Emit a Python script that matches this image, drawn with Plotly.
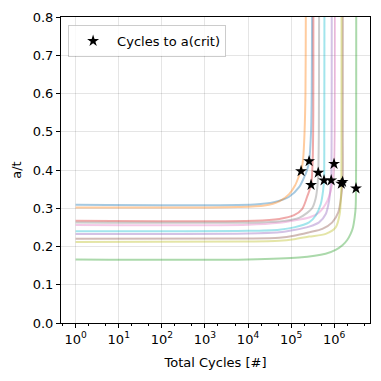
import plotly.graph_objects as go

# ---- data ----
blue_N = [1, 1.4e4, 4.0e4, 9.0e4, 1.53e5, 1.99e5, 2.35e5, 2.61e5, 2.9e5, 3.0e5, 3.06e5, 3.07e5]
blue_a = [0.309, 0.310, 0.316, 0.330, 0.355, 0.380, 0.400, 0.423, 0.50, 0.60, 0.80, 0.90]

orange_N = [1, 6.0e3, 2.4e4, 5.3e4, 9.0e4, 1.24e5, 1.53e5, 1.70e5, 1.90e5, 2.05e5, 2.15e5, 2.19e5, 2.20e5]
orange_a = [0.302, 0.303, 0.307, 0.318, 0.337, 0.360, 0.385, 0.397, 0.43, 0.50, 0.60, 0.80, 0.90]

green_N = [1, 1.0e4, 1.53e5, 6.3e5, 1.08e6, 1.55e6, 2.0e6, 2.4e6, 2.72e6, 2.98e6, 3.14e6, 3.2e6, 3.23e6, 3.24e6, 3.25e6]
green_a = [0.166, 0.166, 0.171, 0.181, 0.191, 0.203, 0.217, 0.233, 0.250, 0.276, 0.302, 0.352, 0.50, 0.80, 0.90]

red_N = [1, 1.4e4, 5.3e4, 1.17e5, 1.8e5, 2.35e5, 2.9e5, 3.15e5, 3.27e5, 3.28e5, 3.29e5]
red_a = [0.267, 0.267, 0.272, 0.282, 0.298, 0.330, 0.361, 0.42, 0.55, 0.80, 0.90]

purple_N = [1, 1.0e4, 5.3e4, 1.17e5, 2.61e5, 4.45e5, 6.36e5, 7.58e5, 8.2e5, 8.5e5, 8.7e5, 8.75e5, 8.77e5]
purple_a = [0.233, 0.234, 0.237, 0.243, 0.252, 0.263, 0.285, 0.319, 0.354, 0.373, 0.50, 0.80, 0.90]

brown_N = [1, 1.0e4, 5.3e4, 1.17e5, 2.61e5, 5.3e5, 9.0e5, 1.24e6, 1.44e6, 1.565e6, 1.575e6, 1.58e6, 1.585e6]
brown_a = [0.220, 0.221, 0.223, 0.228, 0.237, 0.246, 0.263, 0.289, 0.328, 0.369, 0.50, 0.80, 0.90]

pink_N = [1, 1.0e4, 5.3e4, 1.17e5, 2.61e5, 4.45e5, 6.9e5, 8.3e5, 9.4e5, 9.9e5, 1.03e6, 1.04e6, 1.045e6]
pink_a = [0.256, 0.257, 0.262, 0.268, 0.276, 0.289, 0.319, 0.345, 0.380, 0.416, 0.50, 0.80, 0.90]

gray_N = [1, 1.8e4, 6.9e4, 1.53e5, 2.35e5, 3.06e5, 3.69e5, 4.1e5, 4.25e5, 4.4e5, 4.45e5, 4.47e5]
gray_a = [0.263, 0.263, 0.267, 0.275, 0.288, 0.300, 0.325, 0.360, 0.393, 0.50, 0.80, 0.90]

olive_N = [1, 1.0e4, 5.3e4, 1.17e5, 2.61e5, 6.36e5, 1.08e6, 1.34e6, 1.44e6, 1.46e6, 1.47e6, 1.475e6, 1.48e6]
olive_a = [0.212, 0.213, 0.215, 0.219, 0.226, 0.233, 0.250, 0.285, 0.337, 0.364, 0.50, 0.80, 0.90]

cyan_N = [1, 1.0e4, 5.3e4, 1.17e5, 2.61e5, 3.73e5, 4.87e5, 5.5e5, 5.8e5, 5.88e5, 5.92e5, 5.93e5]
cyan_a = [0.240, 0.241, 0.244, 0.250, 0.263, 0.281, 0.311, 0.345, 0.373, 0.50, 0.80, 0.90]

crit_N = [2.61e5, 1.70e5, 3.2e6, 2.9e5, 8.5e5, 1.565e6, 9.9e5, 4.25e5, 1.46e6, 5.8e5]
crit_a = [0.423, 0.397, 0.352, 0.361, 0.373, 0.369, 0.416, 0.393, 0.364, 0.373]

x_tickvals = [1, 10, 100, 1e3, 1e4, 1e5, 1e6]
x_ticktext = ["10<sup>0</sup>", "10<sup>1</sup>", "10<sup>2</sup>", "10<sup>3</sup>",
              "10<sup>4</sup>", "10<sup>5</sup>", "10<sup>6</sup>"]

curves = [
    (blue_N, blue_a, "31,119,180"),
    (orange_N, orange_a, "255,127,14"),
    (green_N, green_a, "44,160,44"),
    (red_N, red_a, "214,39,40"),
    (purple_N, purple_a, "148,103,189"),
    (brown_N, brown_a, "140,86,75"),
    (pink_N, pink_a, "227,119,194"),
    (gray_N, gray_a, "127,127,127"),
    (olive_N, olive_a, "188,189,34"),
    (cyan_N, cyan_a, "23,190,207"),
]

fig = go.Figure()
for N, a, rgb in curves:
    fig.add_trace(go.Scatter(
        x=N, y=a, mode="lines",
        line=dict(color=f"rgba({rgb},0.4)", width=2, shape="spline", smoothing=0.8),
        showlegend=False, hoverinfo="skip",
    ))

fig.add_trace(go.Scatter(
    x=crit_N, y=crit_a, mode="markers", name="Cycles to a(crit)",
    marker=dict(symbol="star", size=9, color="black", line=dict(width=0)),
))

axis_common = dict(
    showline=True, linecolor="black", linewidth=1, mirror=True,
    ticks="outside", ticklen=4, tickcolor="black", tickwidth=1,
    showgrid=True, gridcolor="rgba(0,0,0,0.1)", gridwidth=1,
    zeroline=False, tickfont=dict(size=13, color="black"),
)

fig.update_xaxes(
    type="log", range=[-0.34, 6.83],
    tickvals=x_tickvals, ticktext=x_ticktext,
    minor=dict(ticks="outside", ticklen=2, tickcolor="black", showgrid=False),
    title=dict(text="Total Cycles [#]", font=dict(size=13, color="black"), standoff=12),
    **axis_common,
)
fig.update_yaxes(
    range=[0, 0.8], dtick=0.1, tickformat=".1f",
    title=dict(text="a/t", font=dict(size=13, color="black"), standoff=8),
    **axis_common,
)

fig.update_layout(
    width=381, height=381,
    margin=dict(l=61, r=10, t=15, b=58),
    paper_bgcolor="white", plot_bgcolor="white",
    font=dict(family="DejaVu Sans", size=13, color="black"),
    legend=dict(
        x=0.023, y=0.974, xanchor="left", yanchor="top",
        bgcolor="rgba(255,255,255,0.8)", bordercolor="rgba(0,0,0,0.2)", borderwidth=1,
        font=dict(size=13), itemwidth=38,
    ),
)

fig.write_html("out.html", config={"displayModeBar": False},
               post_script="document.body.style.margin='0';")
